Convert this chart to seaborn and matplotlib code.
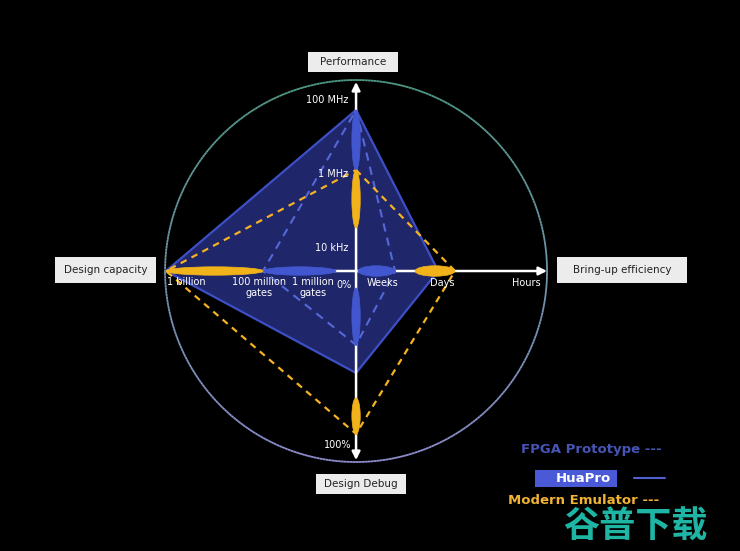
import numpy as np
import matplotlib
matplotlib.use("Agg")
import matplotlib.pyplot as plt
import seaborn as sns
from matplotlib.patches import Ellipse, Rectangle
from matplotlib.collections import LineCollection
from matplotlib.colors import to_rgb

sns.set_style("dark")
plt.rcParams['font.family'] = ['DejaVu Sans', 'Noto Sans CJK SC']

# four axes of the radar: up, right, down, left (angles in degrees)
axis_names = ["Performance", "Bring-up efficiency", "Design Debug", "Design capacity"]
axis_angles = [90, 0, -90, 180]

# polygon vertices as fraction of the circle radius
huapro = [0.843, 0.43, 0.534, 0.995]
fpga = [0.843, 0.204, 0.387, 0.487]
emulator = [0.529, 0.518, 0.853, 0.995]

# value ranges (ellipses) per axis, start/end radius
fpga_ranges = [(0.529, 0.843), (0.01, 0.204), (0.089, 0.387), (0.105, 0.487)]
emu_ranges = [(0.225, 0.529), (0.309, 0.518), (0.665, 0.853), (0.487, 0.995)]

# tick labels along the axes
perf_ticks = ["100 MHz", "1 MHz", "10 kHz"]
perf_pos = [0.896, 0.508, 0.12]
debug_ticks = ["0%", "100%"]
debug_pos = [0.075, 0.91]
cap_ticks = ["1 billion", "100 million\ngates", "1 million\ngates"]
cap_pos = [0.89, 0.508, 0.225]
bring_ticks = ["Weeks", "Days", "Hours"]
bring_pos = [0.14, 0.45, 0.89]

BLUE = "#3d4fc4"
YELLOW = "#f5b323"


def to_xy(vals):
    x = [v * np.cos(np.radians(a)) for v, a in zip(vals, axis_angles)]
    y = [v * np.sin(np.radians(a)) for v, a in zip(vals, axis_angles)]
    return x + x[:1], y + y[:1]


def px(x, y):
    # picture pixel -> data units (circle centre at 356,271, radius 191 px)
    return (x - 356) / 191, (271 - y) / 191


fig = plt.figure(figsize=(7.4, 5.51), dpi=100, facecolor="black")
ax = fig.add_axes([0, 0, 1, 1])
ax.set_facecolor("black")
ax.set_xlim(-1.864, 2.010)
ax.set_ylim(-1.466, 1.419)
ax.set_aspect("equal")
ax.axis("off")

# outer circle with a soft colour gradient (teal on top, lavender below)
t = np.linspace(0, 2 * np.pi, 400)
cx, cy = np.cos(t), np.sin(t)
pts = np.array([cx, cy]).T.reshape(-1, 1, 2)
segs = np.concatenate([pts[:-1], pts[1:]], axis=1)
c_top, c_bot = np.array(to_rgb("#4f9a86")), np.array(to_rgb("#8f8fd0"))
w = ((cy[:-1] + 1) / 2)[:, None]
cols = c_bot * (1 - w) + c_top * w
ax.add_collection(LineCollection(segs, colors=cols, linewidths=1.3, zorder=1))

# HuaPro filled polygon
hx, hy = to_xy(huapro)
ax.fill(hx, hy, color="#1f266a", zorder=2)
sns.lineplot(x=hx, y=hy, sort=False, estimator=None, color=BLUE, lw=1.6,
             ax=ax, zorder=3)

# axes arrows
ax.annotate("", xy=(0, 0.99), xytext=(0, -0.99),
            arrowprops=dict(arrowstyle="<|-|>", color="white", lw=1.8,
                            mutation_scale=12, shrinkA=0, shrinkB=0), zorder=4)
ax.annotate("", xy=(1.0, 0), xytext=(-0.99, 0),
            arrowprops=dict(arrowstyle="-|>", color="white", lw=1.8,
                            mutation_scale=12, shrinkA=0, shrinkB=0), zorder=4)

# dashed polygons
fx, fy = to_xy(fpga)
sns.lineplot(x=fx, y=fy, sort=False, estimator=None, color="#5468d8", lw=1.5,
             ax=ax, linestyle=(0, (4, 3)), zorder=5)
ex, ey = to_xy(emulator)
sns.lineplot(x=ex, y=ey, sort=False, estimator=None, color=YELLOW, lw=1.6,
             ax=ax, linestyle=(0, (3, 2.5)), zorder=5)


# range ellipses
def draw_ranges(ranges, color):
    for (r0, r1), a in zip(ranges, axis_angles):
        mid = (r0 + r1) / 2
        cxm, cym = mid * np.cos(np.radians(a)), mid * np.sin(np.radians(a))
        thick = 0.055 if a == 0 else 0.044
        ax.add_patch(Ellipse((cxm, cym), r1 - r0, thick, angle=a, facecolor=color,
                             edgecolor=color, lw=0.5, zorder=6))


draw_ranges(fpga_ranges, "#4257cf")
draw_ranges(emu_ranges, "#f2b21a")

# tick labels
lab = dict(color="white", fontsize=7, zorder=7)
for s, p in zip(perf_ticks, perf_pos):
    ax.text(-0.04, p, s, ha="right", va="center", **lab)
for s, p in zip(debug_ticks, debug_pos):
    ax.text(-0.025, -p, s, ha="right", va="center", **lab)
for s, p in zip(cap_ticks, cap_pos):
    ax.text(-p, -0.03, s, ha="center", va="top", linespacing=1.1, **lab)
for s, p in zip(bring_ticks, bring_pos):
    ax.text(p, -0.035, s, ha="center", va="top", **lab)

# axis name boxes
boxes = [(308, 52, 398, 72), (557, 257, 687, 283), (316, 474, 406, 494), (55, 257, 156, 283)]
for name, (x0, y0, x1, y1) in zip(axis_names, boxes):
    a0, b0 = px(x0, y1)
    a1, b1 = px(x1, y0)
    ax.add_patch(Rectangle((a0, b0), a1 - a0, b1 - b0, fc="#ececec", ec="none", zorder=8))
    ax.text((a0 + a1) / 2, (b0 + b1) / 2, name, ha="center", va="center",
            fontsize=7.5, color="#222222", zorder=9)

# legend drawn as text
ax.text(*px(591, 449), "FPGA Prototype ---", ha="center", va="center",
        fontsize=9.5, fontweight="bold", color="#4655b5")
a0, b0 = px(535, 487)
a1, b1 = px(617, 470)
ax.add_patch(Rectangle((a0, b0), a1 - a0, b1 - b0, fc="#4a5ad6", ec="none"))
ax.text(*px(583, 478.5), "HuaPro", ha="center", va="center", fontsize=9.5,
        fontweight="bold", color="white")
lx0, ly = px(634, 478)
lx1, _ = px(665, 478)
ax.plot([lx0, lx1], [ly, ly], color="#5060d0", lw=1.5)
ax.text(*px(584, 501), "Modern Emulator ---", ha="center", va="center",
        fontsize=9.5, fontweight="bold", color="#f2b233")
ax.text(*px(635, 527), "谷普下载", ha="center", va="center", fontsize=26,
        fontweight="bold", color="#1fb5a5", family=["Noto Sans CJK SC"])

fig.savefig("out.png", dpi=100, facecolor="black")
